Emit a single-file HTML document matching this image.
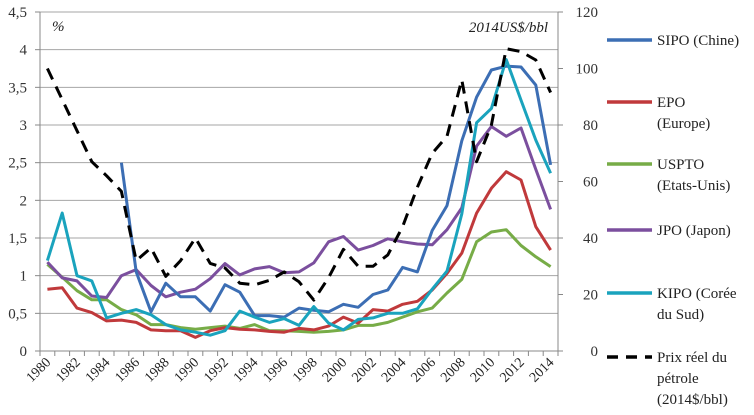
<!DOCTYPE html>
<html><head><meta charset="utf-8"><style>
html,body{margin:0;padding:0;background:#fff;}
svg, svg text{font-family:"Liberation Serif","Times New Roman",serif;}
svg{display:block;}
</style></head><body>
<svg id="chart" width="754" height="415" viewBox="0 0 754 415" xmlns="http://www.w3.org/2000/svg" font-family="Liberation Serif, serif">
<g id="grid"></g>
<g id="axes"></g>
<g id="series"></g>
<text x="52" y="31" font-style="italic" font-size="15" fill="#222">%</text>
<text x="548" y="32" font-style="italic" font-size="15" fill="#222" text-anchor="end">2014US$/bbl</text>
<g id="legend"></g>
</svg>
<script>
const years = [];
for (let y = 1980; y <= 2014; y++) years.push(y);
const sipo = [null,null,null,null,null,2.5,1.05,0.52,0.9,0.72,0.72,0.53,0.88,0.78,0.47,0.47,0.45,0.57,0.54,0.52,0.62,0.58,0.75,0.81,1.11,1.05,1.6,1.93,2.79,3.37,3.73,3.78,3.77,3.53,2.47];
const epo = [0.82,0.84,0.57,0.51,0.40,0.41,0.38,0.28,0.27,0.27,0.18,0.27,0.31,0.29,0.28,0.26,0.25,0.30,0.28,0.33,0.45,0.37,0.55,0.53,0.62,0.66,0.81,1.03,1.3,1.83,2.16,2.38,2.27,1.65,1.34];
const uspto = [1.15,0.98,0.8,0.68,0.68,0.55,0.48,0.35,0.35,0.31,0.29,0.31,0.33,0.30,0.35,0.27,0.27,0.26,0.25,0.26,0.28,0.34,0.34,0.38,0.45,0.52,0.57,0.77,0.95,1.45,1.58,1.61,1.4,1.25,1.12];
const jpo = [1.18,0.97,0.93,0.73,0.71,1.0,1.08,0.87,0.72,0.78,0.82,0.96,1.16,1.01,1.09,1.12,1.04,1.05,1.17,1.45,1.52,1.34,1.4,1.49,1.45,1.42,1.41,1.61,1.9,2.72,2.98,2.85,2.96,2.41,1.88];
const kipo = [1.2,1.83,1.0,0.93,0.44,0.5,0.55,0.48,0.35,0.28,0.25,0.21,0.27,0.53,0.45,0.38,0.43,0.34,0.59,0.37,0.28,0.42,0.44,0.5,0.5,0.56,0.82,1.06,1.82,3.03,3.22,3.87,3.33,2.8,2.36];
const oil = [100,89,78,67,62,56.5,32,36.5,26.4,32,40,31,29.4,24,23.4,25,28,24.5,18,26,36,30,30,34,44,58,70,76,96,67,80,107,106,103,91.5];
const leftTicks = ["0","0,5","1","1,5","2","2,5","3","3,5","4","4,5"];
const rightTicks = [0,20,40,60,80,100,120];

const X0 = 40, X1 = 558, Y0 = 351, Y1 = 12;
const n = years.length, step = (X1 - X0) / n;
const xPos = i => X0 + step * (i + 0.5);
const yL = v => Y0 - (v / 4.5) * (Y0 - Y1);
const yR = v => Y0 - (v / 120) * (Y0 - Y1);
const NS = "http://www.w3.org/2000/svg";
function mk(tag, attrs, parent) {
  const e = document.createElementNS(NS, tag);
  for (const k in attrs) e.setAttribute(k, attrs[k]);
  parent.appendChild(e);
  return e;
}
const grid = document.getElementById('grid');
const axes = document.getElementById('axes');
const series = document.getElementById('series');
const legend = document.getElementById('legend');

leftTicks.forEach((t, i) => {
  const y = yL(i * 0.5);
  if (i > 0) {
    const g = mk('line', {x1: X0, x2: X1, y1: y, y2: y, stroke: '#a6a6a6', 'stroke-width': 1}, grid);
    
    
  }
  mk('line', {x1: X0 - 5, x2: X0, y1: y, y2: y, stroke: '#888'}, axes);
  const tx = mk('text', {x: 27, y: y + 5, 'font-size': 15, fill: '#333', 'text-anchor': 'end'}, axes);
  tx.textContent = t;
  
  
});
rightTicks.forEach(v => {
  const y = yR(v);
  mk('line', {x1: X1, x2: X1 + 5, y1: y, y2: y, stroke: '#888'}, axes);
  const tx = mk('text', {x: 598, y: y + 5, 'font-size': 15, fill: '#333', 'text-anchor': 'end'}, axes);
  tx.textContent = v;
  
  
});
mk('line', {x1: X0, x2: X0, y1: Y1, y2: Y0, stroke: '#888'}, axes);
mk('line', {x1: X1, x2: X1, y1: Y1, y2: Y0, stroke: '#888'}, axes);
mk('line', {x1: X0, x2: X1, y1: Y0, y2: Y0, stroke: '#888'}, axes);
for (let i = 0; i <= n; i++) {
  const x = X0 + step * i;
  mk('line', {x1: x, x2: x, y1: Y0, y2: Y0 + 5, stroke: '#888'}, axes);
}
years.forEach((yr, i) => {
  if (yr % 2) return;
  const x = xPos(i) + 4, y = Y0 + 12;
  const tx = mk('text', {x: x, y: y, 'font-size': 14, fill: '#222', 'text-anchor': 'end', transform: `rotate(-45 ${x} ${y})`}, axes);
  tx.textContent = yr;
  
  
});

function drawLine(vals, scale, color, name, dash) {
  let d = '', started = false;
  vals.forEach((v, i) => {
    if (v === null) return;
    d += (started ? 'L' : 'M') + xPos(i).toFixed(1) + ' ' + scale(v).toFixed(1);
    started = true;
  });
  const p = mk('path', {d: d, fill: 'none', stroke: color, 'stroke-width': 3, 'stroke-linejoin': 'round'}, series);
  if (dash) p.setAttribute('stroke-dasharray', dash);
  
  
}
drawLine(uspto, yL, '#77ac47', 'uspto-line');
drawLine(epo, yL, '#c0393b', 'epo-line');
drawLine(jpo, yL, '#7b4f9e', 'jpo-line');
drawLine(sipo, yL, '#3c6eb4', 'sipo-line');
drawLine(kipo, yL, '#1aa3bd', 'kipo-line');
drawLine(oil, yR, '#000', 'oil-price-line', '12 8');

const legItems = [
  {c: '#3c6eb4', y: 40, t: ['SIPO (Chine)'], n: 'legend-sipo'},
  {c: '#c0393b', y: 102, t: ['EPO', '(Europe)'], n: 'legend-epo'},
  {c: '#77ac47', y: 164, t: ['USPTO', '(Etats-Unis)'], n: 'legend-uspto'},
  {c: '#7b4f9e', y: 230, t: ['JPO (Japon)'], n: 'legend-jpo'},
  {c: '#1aa3bd', y: 293, t: ['KIPO (Corée', 'du Sud)'], n: 'legend-kipo'},
  {c: '#000', y: 357, t: ['Prix réel du', 'pétrole', '(2014$/bbl)'], n: 'legend-oil', dash: '11 8'}
];
legItems.forEach(it => {
  const g = mk('g', {}, legend);
  
  
  const l = mk('line', {x1: 607, x2: 652, y1: it.y, y2: it.y, stroke: it.c, 'stroke-width': 3.5}, g);
  if (it.dash) l.setAttribute('stroke-dasharray', it.dash);
  it.t.forEach((s, k) => {
    const tx = mk('text', {x: 657, y: it.y + 5 + k * 21, 'font-size': 15, fill: '#222'}, g);
    tx.textContent = s;
  });
});
</script>
</body></html>
